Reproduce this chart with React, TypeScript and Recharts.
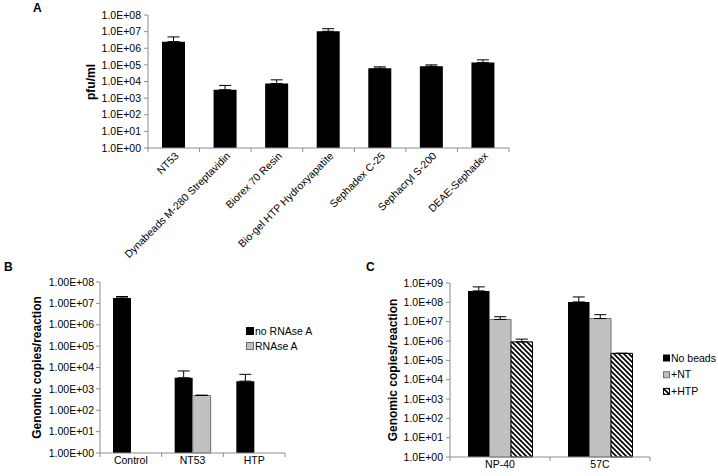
import { BarChart, Bar, XAxis, YAxis, ErrorBar } from 'recharts';

// panel A
const catsA = ['NT53', 'Dynabeads M-280 Streptavidin', 'Biorex 70 Resin', 'Bio-gel HTP Hydroxyapatite', 'Sephadex C-25', 'Sephacryl S-200', 'DEAE-Sephadex'];
const pfuA = [2.5e6, 3.2e3, 7.6e3, 1.05e7, 6.3e4, 8.3e4, 1.37e5];
const errA = [2.3e6, 2.6e3, 5e3, 4.5e6, 1.3e4, 1.7e4, 6.3e4];
const ticksA = [1, 10, 100, 1e3, 1e4, 1e5, 1e6, 1e7, 1e8];

// panel B
const catsB = ['Control', 'NT53', 'HTP'];
const noRnase = [1.8e7, 3.3e3, 2.3e3];
const noRnaseErr = [3e6, 3.6e3, 2.5e3];
const rnase = [null, 490, null];
const rnaseErr = [null, 20, null];

// panel C
const catsC = ['NP-40', '57C'];
const noBeads = [3.9e8, 1.05e8];
const noBeadsErr = [2.4e8, 8.5e7];
const plusNT = [1.3e7, 1.45e7];
const plusNTErr = [5e6, 8.5e6];
const plusHTP = [9e5, 2.3e5];
const plusHTPErr = [3.5e5, 0];
const ticksC = [1, 10, 100, 1e3, 1e4, 1e5, 1e6, 1e7, 1e8, 1e9];

const GREY = '#c0c0c0';
const AXIS = '#8c8c8c';
const FONT = '"Liberation Sans", Arial, sans-serif';

const fmtExp = (digits: number) => (v: number) => {
  const e = Math.round(Math.log10(v));
  return `${(v / Math.pow(10, e)).toFixed(digits)}E+${String(e).padStart(2, '0')}`;
};

const dataA = catsA.map((name, i) => ({ name, pfu: pfuA[i], err: [0, errA[i]] }));
const dataB = catsB.map((name, i) => ({
  name,
  no: noRnase[i],
  noErr: [0, noRnaseErr[i]],
  rn: rnase[i],
  rnErr: rnaseErr[i] == null ? null : [0, rnaseErr[i]],
}));
const dataC = catsC.map((name, i) => ({
  name,
  nb: noBeads[i],
  nbErr: [0, noBeadsErr[i]],
  nt: plusNT[i],
  ntErr: [0, plusNTErr[i]],
  htp: plusHTP[i],
  htpErr: [0, plusHTPErr[i]],
}));

// category tick with Excel-like boundary marks
function CatTick(props: any) {
  const { x, y, payload, index, band, count, rotated } = props;
  const left = x - band / 2;
  return (
    <g>
      <line x1={left} x2={left} y1={y} y2={y + 4} stroke={AXIS} />
      {index === count - 1 && <line x1={x + band / 2} x2={x + band / 2} y1={y} y2={y + 4} stroke={AXIS} />}
      {rotated ? (
        <text
          x={x + 3}
          y={y + 6}
          transform={`rotate(-45, ${x + 3}, ${y + 6})`}
          textAnchor="end"
          dy="0.35em"
          fontSize={10.5}
          fill="#000"
        >
          {payload.value}
        </text>
      ) : (
        <text x={x} y={y + 4} textAnchor="middle" dy="0.71em" fontSize={10.5} fill="#000">
          {payload.value}
        </text>
      )}
    </g>
  );
}

// rotated y-axis title, placed from the axis viewBox
const axisTitle = (value: string, cx: number) => (props: any) => {
  const vb = props.viewBox;
  const x = vb.x + cx;
  const y = vb.y + vb.height / 2;
  return (
    <text
      x={x}
      y={y}
      transform={`rotate(-90, ${x}, ${y})`}
      textAnchor="middle"
      dy="0.35em"
      fontSize={12}
      fontWeight="bold"
      fill="#000"
    >
      {value}
    </text>
  );
};

function HatchPattern({ id }: { id: string }) {
  return (
    <pattern id={id} patternUnits="userSpaceOnUse" width={5} height={5}>
      <rect width={5} height={5} fill="#fff" />
      <path d="M-1,-1 L6,6 M-1,4 L1,6 M4,-1 L6,1" stroke="#000" strokeWidth={1.7} />
    </pattern>
  );
}

interface LegendItem {
  name: string;
  fill: string;
  stroke: string;
}

function LegendBox({ items, left, top, gap, box }: { items: LegendItem[]; left: number; top: number; gap: number; box: number }) {
  return (
    <svg style={{ position: 'absolute', left, top, overflow: 'visible' }} width={80} height={gap * items.length}>
      <defs>
        <HatchPattern id="hatchLegend" />
      </defs>
      {items.map((it, i) => (
        <g key={it.name}>
          <rect x={0.5} y={i * gap - box / 2 + 0.5} width={box - 1} height={box - 1} fill={it.fill} stroke={it.stroke} />
          <text x={box + 1} y={i * gap} dy="0.35em" fontSize={10.5} fill="#000" fontFamily={FONT}>
            {it.name}
          </text>
        </g>
      ))}
    </svg>
  );
}

const yTick = { fontSize: 10.5, fill: '#000' };
const panelLetter = { position: 'absolute' as const, fontWeight: 'bold', fontSize: 12 };

export default function App() {
  const bandA = (509 - 148) / catsA.length;
  const bandB = (285 - 100) / catsB.length;
  const bandC = (650 - 450) / catsC.length;

  return (
    <div style={{ position: 'absolute', left: 0, top: 0, width: 718, height: 476, background: '#fff', fontFamily: FONT }}>
      <div style={{ ...panelLetter, left: 33, top: 1 }}>A</div>
      <div style={{ ...panelLetter, left: 4, top: 260 }}>B</div>
      <div style={{ ...panelLetter, left: 366, top: 260 }}>C</div>

      <div style={{ position: 'absolute', left: 0, top: 0 }}>
        <BarChart width={718} height={260} data={dataA} margin={{ top: 15, right: 209, bottom: 0, left: 0 }} barSize={23}>
          <XAxis
            dataKey="name"
            interval={0}
            height={112}
            stroke={AXIS}
            tickLine={false}
            tickSize={0}
            tickMargin={0}
            tick={(p: any) => <CatTick {...p} band={bandA} count={catsA.length} rotated />}
          />
          <YAxis
            scale="log"
            domain={[1, 1e8]}
            ticks={ticksA}
            width={148}
            stroke={AXIS}
            tickSize={4}
            tickMargin={3}
            tick={yTick}
            tickFormatter={fmtExp(1)}
          />
          <Bar dataKey="pfu" fill="#000" isAnimationActive={false}>
            <ErrorBar dataKey="err" width={6} stroke="#000" strokeWidth={1} isAnimationActive={false} />
          </Bar>
        </BarChart>
      </div>
      <svg style={{ position: 'absolute', left: 80, top: 55 }} width={20} height={60}>
        <text x={11} y={27} transform="rotate(-90, 11, 27)" textAnchor="middle" dy="0.35em" fontSize={12} fontWeight="bold" fill="#000" fontFamily={FONT}>
          pfu/ml
        </text>
      </svg>

      <div style={{ position: 'absolute', left: 0, top: 270 }}>
        <BarChart width={360} height={206} data={dataB} margin={{ top: 12, right: 75, bottom: 0, left: 0 }} barSize={18} barGap={0}>
          <XAxis
            dataKey="name"
            interval={0}
            height={23}
            stroke={AXIS}
            tickLine={false}
            tickSize={0}
            tickMargin={0}
            tick={(p: any) => <CatTick {...p} band={bandB} count={catsB.length} />}
          />
          <YAxis
            scale="log"
            domain={[1, 1e8]}
            ticks={ticksA}
            width={100}
            stroke={AXIS}
            tickSize={4}
            tickMargin={2}
            tick={yTick}
            tickFormatter={fmtExp(2)}
            label={axisTitle('Genomic copies/reaction', 37)}
          />
          <Bar dataKey="no" fill="#000" isAnimationActive={false}>
            <ErrorBar dataKey="noErr" width={6} stroke="#000" strokeWidth={1} isAnimationActive={false} />
          </Bar>
          <Bar dataKey="rn" fill={GREY} stroke="#6e6e6e" isAnimationActive={false}>
            <ErrorBar dataKey="rnErr" width={6} stroke="#000" strokeWidth={1} isAnimationActive={false} />
          </Bar>
        </BarChart>
      </div>
      <LegendBox
        left={246}
        top={331}
        gap={15}
        box={8}
        items={[
          { name: 'no RNAse A', fill: '#000', stroke: '#000' },
          { name: 'RNAse A', fill: GREY, stroke: '#6e6e6e' },
        ]}
      />

      <div style={{ position: 'absolute', left: 360, top: 270 }}>
        <BarChart width={358} height={206} data={dataC} margin={{ top: 13, right: 68, bottom: 0, left: 0 }} barSize={21.5} barGap={0}>
          <defs>
            <HatchPattern id="hatchC" />
          </defs>
          <XAxis
            dataKey="name"
            interval={0}
            height={19}
            stroke={AXIS}
            tickLine={false}
            tickSize={0}
            tickMargin={0}
            tick={(p: any) => <CatTick {...p} band={bandC} count={catsC.length} />}
          />
          <YAxis
            scale="log"
            domain={[1, 1e9]}
            ticks={ticksC}
            width={90}
            stroke={AXIS}
            tickSize={4}
            tickMargin={3}
            tick={yTick}
            tickFormatter={fmtExp(1)}
            label={axisTitle('Genomic copies/reaction', 33)}
          />
          <Bar dataKey="nb" fill="#000" isAnimationActive={false}>
            <ErrorBar dataKey="nbErr" width={6} stroke="#000" strokeWidth={1} isAnimationActive={false} />
          </Bar>
          <Bar dataKey="nt" fill={GREY} stroke="#6e6e6e" isAnimationActive={false}>
            <ErrorBar dataKey="ntErr" width={6} stroke="#000" strokeWidth={1} isAnimationActive={false} />
          </Bar>
          <Bar dataKey="htp" fill="url(#hatchC)" stroke="#000" isAnimationActive={false}>
            <ErrorBar dataKey="htpErr" width={6} stroke="#000" strokeWidth={1} isAnimationActive={false} />
          </Bar>
        </BarChart>
      </div>
      <LegendBox
        left={663}
        top={358}
        gap={16.7}
        box={7}
        items={[
          { name: 'No beads', fill: '#000', stroke: '#000' },
          { name: '+NT', fill: GREY, stroke: '#6e6e6e' },
          { name: '+HTP', fill: 'url(#hatchLegend)', stroke: '#000' },
        ]}
      />
    </div>
  );
}
